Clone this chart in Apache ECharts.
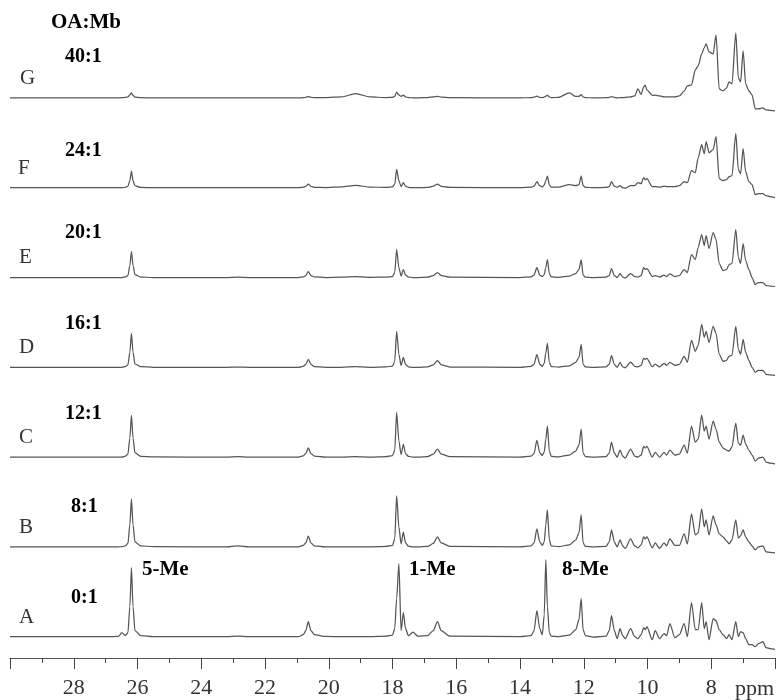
<!DOCTYPE html>
<html>
<head>
<meta charset="utf-8">
<style>html,body{margin:0;padding:0;background:#fff}#c{width:778px;height:700px}</style>
<script src="https://cdn.jsdelivr.net/npm/echarts@6/dist/echarts.min.js"></script>
</head>
<body>
<div id="c"></div>
<script>
// Chemical shift grid shared by all spectra (ppm)
const ppm = [
  30,27,26.6,26.49,26.38,26.3,26.24,26.19,26.14,26.08,
  25.9,25.5,23.2,22.85,22.5,20.95,20.8,20.72,20.64,20.56,
  20.45,20.1,19.6,19.16,18.7,18.2,18,17.93,17.87,17.8,
  17.73,17.66,17.59,17.5,17.36,17.2,16.9,16.72,16.59,16.47,
  16.2,
  14,13.65,13.56,13.47,13.38,13.3,13.24,13.19,13.14,13.08,
  13.02,12.8,12.45,12.25,12.15,12.08,12.02,11.95,11.7,11.3,
  11.2,11.13,11.04,10.95,10.86,10.78,10.7,10.53,10.4,10.3,
  10.2,10.12,10.07,10.02,9.85,9.76,9.62,9.48,9.4,9.3,
  9.14,9,8.85,8.75,8.62,8.5,8.41,8.3,8.22,8.16,
  8.07,7.94,7.85,7.75,7.63,7.52,7.44,7.35,7.23,7.15,
  7.08,7,6.92,6.82,6.72,6.62,6.52,6.38,6.28,6.15,
  6
];
const spectrumA = [
  0,0,0.3,4,1,4,30,69,30,6,
  1,0,0,0.7,0,0,2,6,15,6,
  2,0.3,0,0,0,0.5,1.5,8,38,73,
  6,24,8,1,4.5,0.5,1,6,15,6,
  0.5,
  0,1,6,26,8,2,22,77,30,4,
  0.5,0,1.5,7,17,38,7,1,-0.5,0.5,
  6,21,6,-2,8,1,-2,8,0,-2,
  2,9,7,10,-3,6,-2,3,1,13,
  -1,2,13,0,34,7,7,34,8,15,
  -3,18,16,7,2,-2,2,-3,15,0,
  5,4,-2,-8,-8,-10,-7,-5,-11,-12,
  -12.7
];
const spectrumB = [
  0,0,0,0.3,1,3.5,22,48,22,5,
  1,0.3,0,1,0,0,1.5,4,10.7,4,
  1,0,0,0,0,0.5,1.5,8,51,20,
  3,14.7,4,0.7,0,0,0.5,3.5,10,4,
  0.5,
  0,1,4,18,5,1.5,5,22,37,7,
  1,0.3,2,7,14,32,4,0.5,0,0.5,
  5,17,5,0,7,1,-1.5,8,1,-1,
  2,10,8,10,-1,4,-1.5,4,1,8,
  1.5,1.5,13,3,33,12,14,38,20,27,
  12,31,22,13,10,6,3,7,27,9,
  11,17,10,5,1,-3,0,1,-5,-5.5,
  -6
];
const spectrumC = [
  0,0,0,0,1,3,19,41.7,19,4.5,
  0.8,0.2,0,0.6,0,0,1.3,3.5,9.3,3.5,
  1,0,0,0.5,0,0.5,1.5,7,44.7,16,
  2.5,12.7,3.5,0.7,0,0,0.5,3,8,3,
  0.4,
  0,1,3.5,16.7,4.5,1.5,5,18,31,6,
  0.8,0.3,2,6,12,28,4,0.5,0,0.5,
  4,15,4,0,7,1,-1,8,1,0,
  2,10.7,9,10.7,0,4.7,0,4.7,2,7,
  2,3,12,4,31,15,18,42,26,31,
  18,36,28,15,9,7,6,10,34,14,
  12,22,13,7,2,-4,-1,0,-5,-6,
  -6.7
];
const spectrumD = [
  0,0,0,0,0.8,2.5,15,34,15,3.5,
  0.7,0,0,0.3,0,0,1,3,8,3,
  0.8,0,0,0.7,0,0.4,1.2,6,36,13,
  2,10,3,0.5,0,0,0.4,2.5,6.7,2.5,
  0.3,
  0,1,3,12.7,3,1,4,14,24,5,
  0.8,0.3,1.5,5,10,23,3,0.5,0,0.5,
  3,11.7,3,0,5,0.5,-0.5,5.3,1,0.5,
  2,9,8,9,0.5,3.3,0.5,4,2,5,
  2,3,11,5,27,16,22,43,30,36,
  25,41,34,13,6,7,11,12,41,18,
  13,28,15,7,0,-5,-3,-3,-7,-7.5,
  -8
];
const spectrumE = [
  0,0,0,0,0.6,2,12,26,12,3,
  0.5,0,0,0.3,0,0,0.7,2,6,2,
  0.6,0,0.3,1,0.2,0.4,1,5,28,10,
  1.5,8,2.5,0.5,0,0,0.3,2,5,2,
  0.3,
  0,0.7,2.5,10,2.5,1,3,10,18,4,
  0.6,0.2,1.5,4,8,17.7,2.5,0.4,0,0.3,
  2,9,2,0,4,0.5,-0.5,4,1,0.5,
  2,10,8,9,1,2,0.5,2.3,1,3.7,
  1,2,8,5,23,18,30,43,32,42,
  29,45,38,14,7,8,13,14,48,20,
  14,34,17,8,0,-7,-5,-5,-8,-8.5,
  -9
];
const spectrumF = [
  0,0,0,0,0.4,1.5,7,16.7,7,2,
  0.3,0,0,0.2,0,0,0.5,1.3,3.7,1.3,
  0.4,0.2,0.8,2.3,0.6,0.3,0.8,3.5,18.3,7,
  1,5,1.5,0.3,0,0,0.3,1.5,3.7,1.3,
  0.3,
  0,0.5,1.5,6,2,0.7,2.5,7,11.7,3,
  0.5,0.5,3,2,3,11.7,2,0.4,0,0.3,
  1,6,1.5,0.5,2,0,-0.5,2,2,5,
  4,10,8,9,1,1,0.5,1.7,1,1,
  1,2,6,5,17,15,30,43,34,46,
  35,38,51,9,7,8,11,12,54,18,
  14,39,16,6,3,-7,-6,-6,-8,-9,
  -10
];
const spectrumG = [
  0,0,0,0.2,0.5,1,3,5,2.5,0.8,
  0.2,0,0,0,0,0,0.2,0.6,1.3,0.6,
  0.2,0.4,1,4.3,1,0.3,0.6,1.5,5.7,3,
  1.5,2.7,1,0.3,0,0,0.4,1,1.5,0.8,
  0.2,
  0,0.3,0.7,1.7,0.5,0.3,0.8,1.8,2.7,1,
  0.3,0.5,5,1.5,1.5,3.3,1,0.3,0,0.2,
  0.5,1.3,0.5,0,0.3,0.2,0.5,1,2,9,
  3.5,11,12.7,8,2.5,2.7,2,1,1,1,
  1,2,6.7,12,13,28,32,44,50,54,
  46,44,63,9,7,10,16,14,65,20,
  16,47,14,7,3,-11,-11,-10,-12,-12.5,
  -13
];
const traceLetters = ['A','B','C','D','E','F','G'];
const ratioLabels = ['0:1','8:1','12:1','16:1','20:1','24:1','40:1'];
const spectra = [spectrumA,spectrumB,spectrumC,spectrumD,spectrumE,spectrumF,spectrumG];
const peakLabels = ['5-Me','1-Me','8-Me'];
const ratioTitle = 'OA:Mb';
const axisUnit = 'ppm';

const SERIF = '"Liberation Serif","Times New Roman",serif';
const STACK_STEP = 89.8, FIRST_BASE = 21.3;
const letterPos = [[19,617.5],[19,527.5],[19,437.5],[19,347.5],[19,257.5],[18,168.5],[20,78.5]];
const ratioPos = [[71,598],[71,507],[65,414],[65,324],[65,233],[65,150.5],[65,57]];
const peakPos = [[142,570],[409,570],[562,570]];

function txt(text,x,y,size,weight,fill){
  return {type:'text',x:x,y:y,silent:true,style:{text:text,fill:fill,
    font:(weight||'normal')+' '+size+'px '+SERIF,textVerticalAlign:'middle',textAlign:'left'}};
}
const graphics = [];
traceLetters.forEach((t,i)=>graphics.push(txt(t,letterPos[i][0],letterPos[i][1],21,'normal','#333')));
ratioLabels.forEach((t,i)=>graphics.push(txt(t,ratioPos[i][0],ratioPos[i][1],20,'bold','#000')));
peakLabels.forEach((t,i)=>graphics.push(txt(t,peakPos[i][0],peakPos[i][1],21,'bold','#000')));
graphics.push(txt(ratioTitle,51,23,21,'bold','#000'));
graphics.push(txt(axisUnit,735,689,22,'normal','#333'));

const chart = echarts.init(document.getElementById('c'),null,{renderer:'canvas'});
chart.setOption({
  animation:false,
  backgroundColor:'#fff',
  grid:{left:10,right:2,top:0,height:658,containLabel:false},
  xAxis:{
    type:'value',inverse:true,min:6,max:30,interval:2,
    axisLine:{show:true,onZero:false,lineStyle:{color:'#555',width:1}},
    axisTick:{show:true,length:11,lineStyle:{color:'#444',width:1}},
    minorTick:{show:true,splitNumber:2,length:5,lineStyle:{color:'#444',width:1}},
    splitLine:{show:false},
    axisLabel:{show:true,margin:19,color:'#333',fontFamily:SERIF,fontSize:22,
      formatter:v=>(v===6||v===30)?'':String(v)}
  },
  yAxis:{type:'value',min:0,max:658,show:false},
  graphic:graphics,
  series:spectra.map((vals,i)=>({
    type:'line',name:traceLetters[i],showSymbol:false,smooth:0.25,smoothMonotone:'x',clip:false,
    lineStyle:{color:'#555',width:1.25},
    data:vals.map((v,j)=>[ppm[j],v+FIRST_BASE+i*STACK_STEP])
  }))
});
</script>
</body>
</html>
